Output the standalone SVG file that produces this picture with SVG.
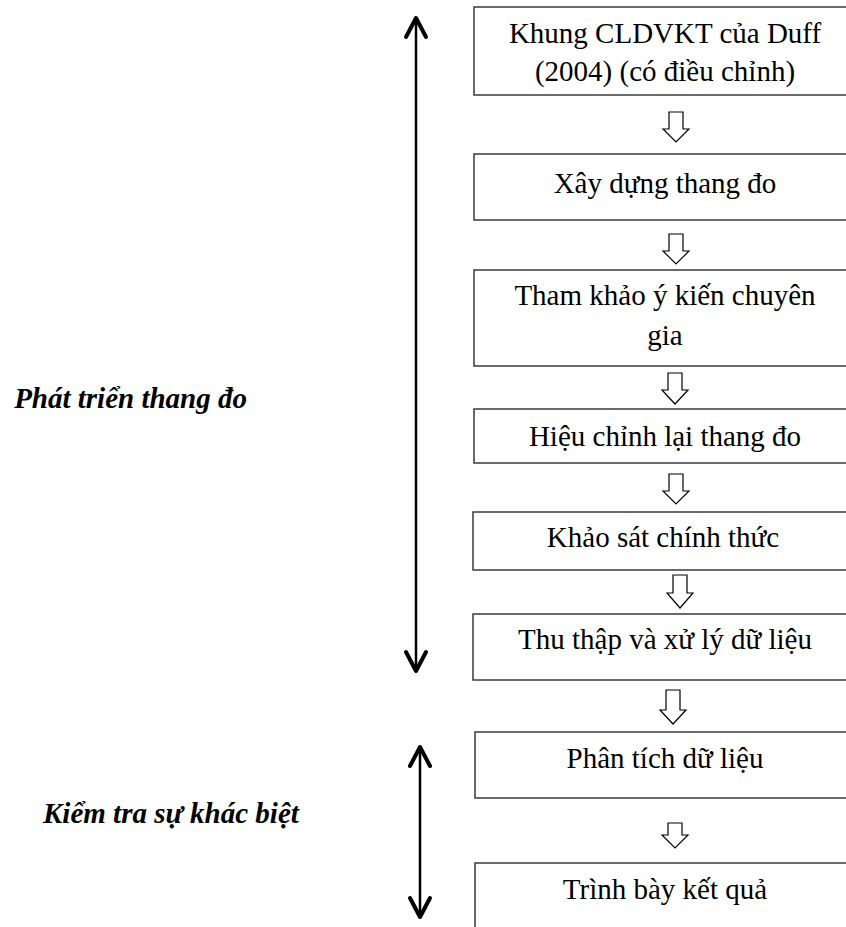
<svg xmlns="http://www.w3.org/2000/svg" width="846" height="927" viewBox="0 0 846 927">
  <style>
    .box { fill: #fff; stroke: #3a3a3a; stroke-width: 1.5; }
    .txt { font-family: "Liberation Serif", "Times New Roman", serif; font-size: 29px; fill: #000; text-anchor: middle; }
    .lbl { font-family: "Liberation Serif", "Times New Roman", serif; font-size: 29px; font-weight: bold; font-style: italic; fill: #000; }
    .flow { fill: #fff; stroke: #000; stroke-width: 1.2; stroke-linejoin: miter; }
    .span { fill: none; stroke: #000; stroke-width: 2.5; }
    .head { fill: none; stroke: #000; stroke-width: 4; stroke-linecap: round; stroke-linejoin: round; }
  </style>

  <!-- process steps -->
  <g id="step-khung">
    <rect class="box" x="474" y="7" width="382" height="88"/>
    <text class="txt" x="665" y="43">Khung CLDVKT của Duff</text>
    <text class="txt" x="665" y="81">(2004) (có điều chỉnh)</text>
  </g>
  <g id="step-xay-dung">
    <rect class="box" x="474" y="154" width="382" height="66"/>
    <text class="txt" x="665" y="193">Xây dựng thang đo</text>
  </g>
  <g id="step-tham-khao">
    <rect class="box" x="474" y="270" width="382" height="96"/>
    <text class="txt" x="665" y="305">Tham khảo ý kiến chuyên</text>
    <text class="txt" x="665" y="345">gia</text>
  </g>
  <g id="step-hieu-chinh">
    <rect class="box" x="474" y="409" width="382" height="54"/>
    <text class="txt" x="665" y="446">Hiệu chỉnh lại thang đo</text>
  </g>
  <g id="step-khao-sat">
    <rect class="box" x="473" y="512" width="383" height="58"/>
    <text class="txt" x="663" y="547">Khảo sát chính thức</text>
  </g>
  <g id="step-thu-thap">
    <rect class="box" x="473" y="614" width="383" height="66"/>
    <text class="txt" x="665" y="649">Thu thập và xử lý dữ liệu</text>
  </g>
  <g id="step-phan-tich">
    <rect class="box" x="475" y="732" width="381" height="66"/>
    <text class="txt" x="665" y="768">Phân tích dữ liệu</text>
  </g>
  <g id="step-trinh-bay">
    <rect class="box" x="475" y="863" width="381" height="80"/>
    <text class="txt" x="665" y="899">Trình bày kết quả</text>
  </g>

  <!-- phase labels -->
  <g id="phase-phat-trien">
    <text class="lbl" x="247" y="408" text-anchor="end">Phát triển thang đo</text>
  </g>
  <g id="phase-kiem-tra">
    <text class="lbl" x="43" y="823">Kiểm tra sự khác biệt</text>
  </g>

  <!-- connectors: hollow block arrows between steps, span arrows for phases -->
  <g id="connectors">
    <polygon class="flow" points="669,112 683,112 683,129 689,129 676,142 663,129 669,129"/>
    <polygon class="flow" points="669,234 683,234 683,251 689,251 676,264 663,251 669,251"/>
    <polygon class="flow" points="668,373 682,373 682,390 688,390 675,404 662,390 668,390"/>
    <polygon class="flow" points="669,474 683,474 683,491 689,491 676,504 663,491 669,491"/>
    <polygon class="flow" points="673,575 687,575 687,593 693,593 680,608 667,593 673,593"/>
    <polygon class="flow" points="666,690 680,690 680,710 686,710 673,724 660,710 666,710"/>
    <polygon class="flow" points="668,823 682,823 682,835 688,835 675,848 662,835 668,835"/>

    <line class="span" x1="416" y1="19" x2="416" y2="669"/>
    <polyline class="head" points="406,37 416,18 426,37"/>
    <polyline class="head" points="406,652 416,671 426,652"/>

    <line class="span" x1="420" y1="748" x2="420" y2="916"/>
    <polyline class="head" points="410,766 420,747 430,766"/>
    <polyline class="head" points="410,898 420,917 430,898"/>
  </g>
</svg>
